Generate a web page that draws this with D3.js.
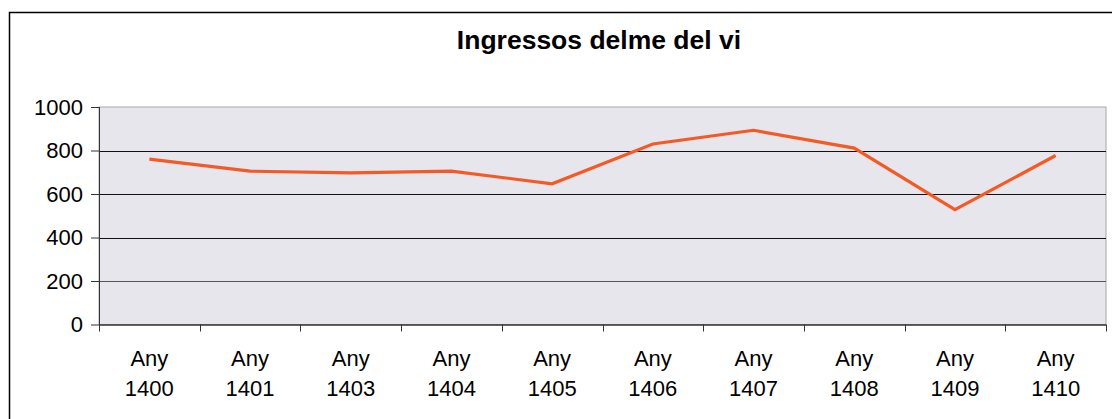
<!DOCTYPE html>
<html>
<head>
<meta charset="utf-8">
<script src="https://cdn.jsdelivr.net/npm/d3@7"></script>
<style>
  body { margin: 0; background: #fff; }
  text { font-family: "Liberation Sans", Arial, sans-serif; }
</style>
</head>
<body>
<script>
// chart values
var years = ["1400", "1401", "1403", "1404", "1405", "1406", "1407", "1408", "1409", "1410"];
var income = [760, 705, 697, 705, 647, 830, 893, 811, 528, 777];
var yTicks = [0, 200, 400, 600, 800, 1000];
var title = "Ingressos delme del vi";

var W = 1112, H = 419;
var plot = {left: 99, top: 107, right: 1106, bottom: 324.5};

var svg = d3.select("body").append("svg")
    .attr("width", W)
    .attr("height", H);

svg.append("rect")
    .attr("width", W).attr("height", H)
    .attr("fill", "#fff");

// outer frame
svg.append("rect")
    .attr("x", 9.5).attr("y", 12.5)
    .attr("width", W + 20).attr("height", H + 20)
    .attr("fill", "none")
    .attr("stroke", "#000")
    .attr("stroke-width", 1.5);

svg.append("text")
    .attr("x", 599).attr("y", 49)
    .attr("text-anchor", "middle")
    .attr("font-weight", "bold")
    .attr("font-size", 26.5)
    .attr("fill", "#000")
    .text(title);

var x = d3.scaleBand()
    .domain(years)
    .range([plot.left, plot.right]);

var y = d3.scaleLinear()
    .domain([0, 1000])
    .range([plot.bottom, plot.top]);

// plot background
svg.append("rect")
    .attr("x", plot.left).attr("y", plot.top)
    .attr("width", plot.right - plot.left)
    .attr("height", plot.bottom - plot.top)
    .attr("fill", "#e6e6ec")
    .attr("stroke", "#a8a8a8")
    .attr("stroke-width", 1);

// gridlines
svg.append("g").selectAll("line")
    .data(yTicks.filter(function(d) { return d > 0 && d < 1000; }))
    .enter().append("line")
    .attr("x1", plot.left).attr("x2", plot.right)
    .attr("y1", function(d) { return Math.round(y(d)) + 0.5; })
    .attr("y2", function(d) { return Math.round(y(d)) + 0.5; })
    .attr("stroke", function(d) { return d == 200 ? "#555" : "#111"; })
    .attr("stroke-width", 1);

// y axis
var yAxis = svg.append("g")
    .attr("transform", "translate(" + plot.left + ",0)")
    .call(d3.axisLeft(y).tickValues(yTicks).tickSize(8).tickPadding(8).tickFormat(d3.format("d")));
yAxis.selectAll("text")
    .attr("font-size", 22)
    .attr("fill", "#000")
    .attr("font-family", "'Liberation Sans', Arial, sans-serif");
yAxis.selectAll("line, path").attr("stroke", "#333");
yAxis.select(".domain").attr("d", "M0.5," + plot.top + "V" + plot.bottom);

// x axis: ticks at category boundaries
var xg = svg.append("g");
xg.append("line")
    .attr("x1", plot.left).attr("x2", plot.right)
    .attr("y1", plot.bottom + 0.5).attr("y2", plot.bottom + 0.5)
    .attr("stroke", "#333").attr("stroke-width", 1.5);
var bounds = years.map(function(d) { return x(d); }).concat([plot.right]);
xg.selectAll(".tk")
    .data(bounds)
    .enter().append("line")
    .attr("class", "tk")
    .attr("x1", function(d) { return Math.round(d) + 0.5; })
    .attr("x2", function(d) { return Math.round(d) + 0.5; })
    .attr("y1", plot.bottom).attr("y2", plot.bottom + 7)
    .attr("stroke", "#333");

var lbl = xg.selectAll(".lbl")
    .data(years)
    .enter().append("text")
    .attr("text-anchor", "middle")
    .attr("font-size", 22)
    .attr("fill", "#000");
lbl.append("tspan")
    .attr("x", function(d) { return x(d) + x.bandwidth() / 2; })
    .attr("y", 366)
    .text("Any");
lbl.append("tspan")
    .attr("x", function(d) { return x(d) + x.bandwidth() / 2; })
    .attr("y", 396)
    .text(function(d) { return d; });

// series line
var line = d3.line()
    .x(function(d, i) { return x(years[i]) + x.bandwidth() / 2; })
    .y(function(d) { return y(d); });

svg.append("path")
    .datum(income)
    .attr("d", line)
    .attr("fill", "none")
    .attr("stroke", "#f45a26")
    .attr("stroke-width", 3.2)
    .attr("stroke-linejoin", "miter");
</script>
</body>
</html>
